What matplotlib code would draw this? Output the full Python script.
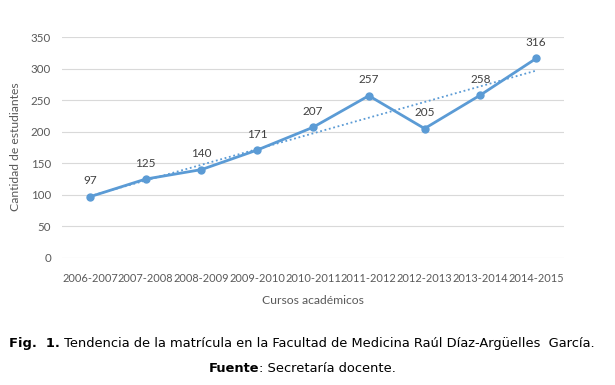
import matplotlib
matplotlib.use("Agg")
import matplotlib.pyplot as plt
import numpy as np

cursos = ["2006-2007", "2007-2008", "2008-2009", "2009-2010", "2010-2011",
          "2011-2012", "2012-2013", "2013-2014", "2014-2015"]
matricula = [97, 125, 140, 171, 207, 257, 205, 258, 316]
yticks = [0, 50, 100, 150, 200, 250, 300, 350]

W, H = 615, 385
fig = plt.figure(figsize=(W / 100, H / 100), dpi=100)
ax = fig.add_axes([62 / W, 1 - 258 / H, (564 - 62) / W, (258 - 37) / H])

cfont = "Lato"
blue = "#5B9BD5"
x = np.arange(len(cursos))

# trend line (linear regression)
m, b = np.polyfit(x, matricula, 1)
ax.plot(x, m * x + b, color=blue, lw=1.3, ls=(0, (1, 1.5)), zorder=2)
ax.plot(x, matricula, color=blue, lw=2.0, marker="o", ms=5, zorder=3)

for xi, v in zip(x, matricula):
    ax.annotate(str(v), (xi, v), xytext=(0, 7.5), textcoords="offset points",
                ha="center", va="bottom", fontsize=8.5, color="#404040", family=cfont)

ax.set_xlim(-0.5, len(cursos) - 0.5)
ax.set_ylim(0, 350)
ax.set_yticks(yticks)
ax.set_xticks(x)
ax.set_xticklabels(cursos)
ax.grid(axis="y", color="#D9D9D9", lw=0.8)
ax.set_axisbelow(True)
for s in ax.spines.values():
    s.set_visible(False)
ax.tick_params(length=0, labelsize=8.3, colors="#595959", pad=8)
ax.tick_params(axis="x", pad=11, labelsize=7.9)
for lab in ax.get_xticklabels() + ax.get_yticklabels():
    lab.set_family(cfont)

fig.text(16 / W, 1 - 147 / H, "Cantidad de estudiantes", rotation=90, ha="center",
         va="center", fontsize=8.7, color="#595959", family=cfont)
fig.text(313 / W, 1 - 300 / H, "Cursos académicos", ha="center", va="center",
         fontsize=8.7, color="#595959", family=cfont)

renderer = fig.canvas.get_renderer()
CAP = 9.4

def centered_line(parts, ycen, size, xc):
    texts = []
    for s, wgt in parts:
        t = fig.text(0, ycen, s, fontsize=size, fontweight=wgt, family="DejaVu Sans",
                     ha="left", va="center", color="black")
        texts.append(t)
    widths = [t.get_window_extent(renderer).width for t in texts]
    x0 = xc - sum(widths) / 2
    for t, w in zip(texts, widths):
        t.set_x(x0 / W)
        x0 += w

centered_line([("Fig.  1.", "bold"),
               (" Tendencia de la matrícula en la Facultad de Medicina Raúl Díaz-Argüelles  García.", "normal")],
              1 - 343 / H, CAP, 302)
centered_line([("Fuente", "bold"), (": Secretaría docente.", "normal")], 1 - 368 / H, CAP, 302)

fig.savefig("out.png", dpi=100)
